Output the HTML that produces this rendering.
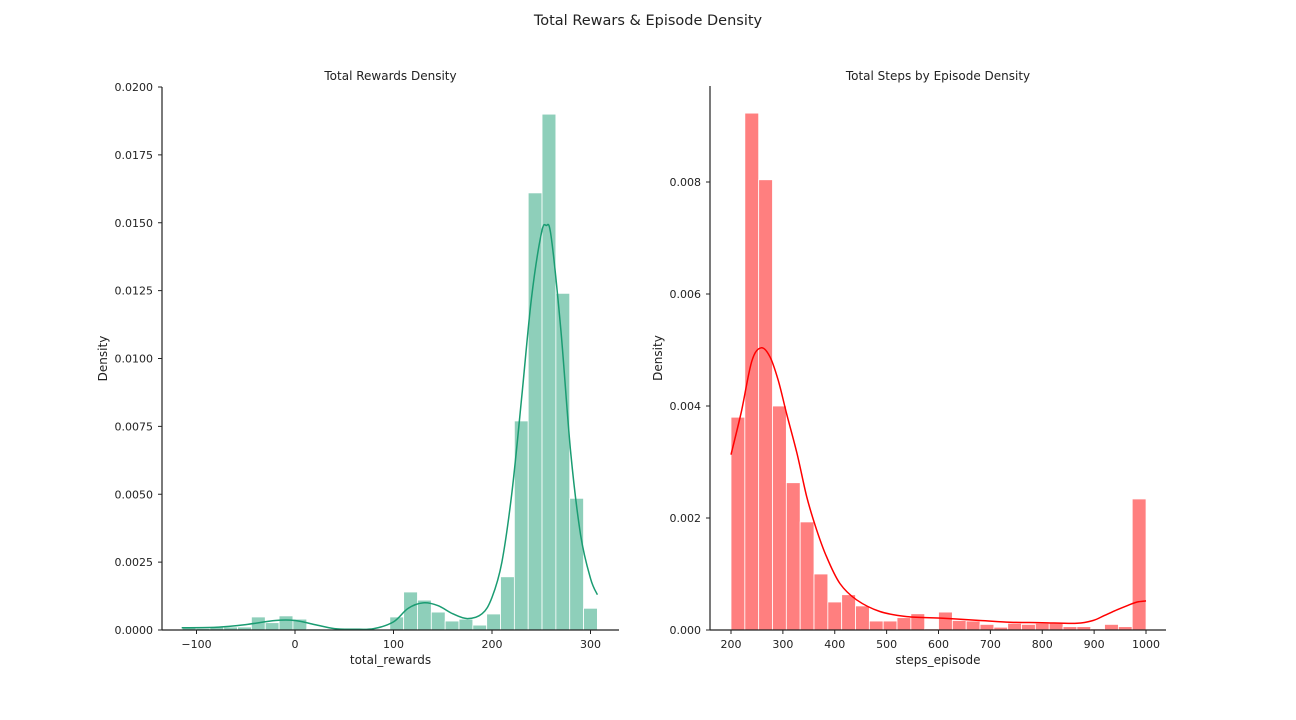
<!DOCTYPE html>
<html><head><meta charset="utf-8"><style>
html,body{margin:0;padding:0;background:#fff;}
svg{display:block;font-family:"DejaVu Sans","Liberation Sans",sans-serif;}
</style></head><body>
<svg id="fig" width="1296" height="720">
<text x="648" y="25" font-size="14.5" text-anchor="middle" fill="#222">Total Rewars &amp; Episode Density</text>
<g id="left"></g>
<g id="right"></g>
</svg>
<script>
// Left chart data
const rewBinStart = -114.5;
const rewBinWidth = 14.05;
const rewDensity = [0.00009,0.00006,0.00011,0.00011,0.00011,0.00048,0.00027,0.00052,0.0004,0.00004,0.00002,0.00001,0.00001,0,0,0.00048,0.0014,0.0011,0.00066,0.00033,0.0004,0.00018,0.00059,0.00196,0.0077,0.0161,0.0190,0.0124,0.00485,0.0008];
const rewKdeX = [-115,-80,-50,-20,0,20,40,60,80,100,115,130,145,160,175,190,200,210,220,230,240,250,255,260,270,280,290,300,307];
const rewKdeY = [0.00008,0.0001,0.0002,0.00035,0.00035,0.0002,0.00005,0.00003,0.00005,0.0003,0.0008,0.001,0.0009,0.0006,0.00042,0.0006,0.0012,0.0025,0.005,0.0085,0.0122,0.0146,0.0149,0.0145,0.011,0.0065,0.0035,0.0019,0.0013];
const rewXTicks = [-100,0,100,200,300];
const rewYTicks = ["0.0000","0.0025","0.0050","0.0075","0.0100","0.0125","0.0150","0.0175","0.0200"];
// Right chart data
const stepBinStart = 200;
const stepBinWidth = 26.67;
const stepDensity = [0.0038,0.00923,0.00804,0.004,0.00263,0.00193,0.001,0.0005,0.00063,0.00043,0.00016,0.00016,0.00022,0.00029,0.00002,0.00032,0.00017,0.00016,0.0001,0.00005,0.00012,0.0001,0.00012,0.00012,0.00006,0.00006,0.00002,0.0001,0.00006,0.00234];
const stepKdeX = [200,220,240,258,275,291,307,327,346,365,384,410,442,487,539,609,680,738,800,867,898,920,944,965,983,1000];
const stepKdeY = [0.00313,0.0039,0.0048,0.00504,0.00488,0.00446,0.00387,0.00316,0.00238,0.00179,0.00131,0.00083,0.00054,0.00033,0.00024,0.00021,0.00017,0.00014,0.00013,0.00012,0.00017,0.00026,0.00036,0.00044,0.0005,0.00052];
const stepXTicks = [200,300,400,500,600,700,800,900,1000];
const stepYTicks = ["0.000","0.002","0.004","0.006","0.008"];

const NS="http://www.w3.org/2000/svg";
function mk(tag,attrs,parent){const e=document.createElementNS(NS,tag);for(const k in attrs)e.setAttribute(k,attrs[k]);parent.appendChild(e);return e;}

function smoothPath(p){
  let d='M'+p[0][0].toFixed(1)+','+p[0][1].toFixed(1);
  for(let i=0;i<p.length-1;i++){
    const p0=p[Math.max(0,i-1)],p1=p[i],p2=p[i+1],p3=p[Math.min(p.length-1,i+2)];
    const c1x=p1[0]+(p2[0]-p0[0])/6,c1y=p1[1]+(p2[1]-p0[1])/6;
    const c2x=p2[0]-(p3[0]-p1[0])/6,c2y=p2[1]-(p3[1]-p1[1])/6;
    d+=` C${c1x.toFixed(1)},${c1y.toFixed(1)} ${c2x.toFixed(1)},${c2y.toFixed(1)} ${p2[0].toFixed(1)},${p2[1].toFixed(1)}`;
  }
  return d;
}

function drawChart(g,o){
  const sx=v=>o.x0px+(v-o.x0v)*o.kx;
  const sy=v=>o.base-v*o.ky;
  o.dens.forEach((d,i)=>{
    const l=sx(o.binStart+i*o.binW), r=sx(o.binStart+(i+1)*o.binW);
    const b=mk('rect',{x:l,y:sy(d),width:Math.max(0,r-l),height:o.base-sy(d),fill:o.barFill,stroke:'#fff','stroke-width':0.8},g);
    
    
  });
  const pts=o.kx_.map((x,i)=>[sx(x),sy(o.ky_[i])]);
  const pl=mk('path',{d:smoothPath(pts),fill:'none',stroke:o.line,'stroke-width':1.5,'stroke-linejoin':'round'},g);
  
  
  const ya=mk('line',{x1:o.left,y1:o.top,x2:o.left,y2:o.base,stroke:'#222','stroke-width':1.2},g);
  
  
  const xa=mk('line',{x1:o.left,y1:o.base,x2:o.right,y2:o.base,stroke:'#222','stroke-width':1.2},g);
  
  
  o.xt.forEach(t=>{
    const x=sx(t);
    mk('line',{x1:x,y1:o.base,x2:x,y2:o.base+4,stroke:'#222'},g);
    const tx=mk('text',{x:x,y:o.base+18,'font-size':11,'text-anchor':'middle',fill:'#222'},g);
    tx.textContent=(t<0?'\u2212'+(-t):t);
    
    
  });
  o.yt.forEach(s=>{
    const y=sy(parseFloat(s));
    mk('line',{x1:o.left-4,y1:y,x2:o.left,y2:y,stroke:'#222'},g);
    const tx=mk('text',{x:o.left-9,y:y+4,'font-size':11,'text-anchor':'end',fill:'#222'},g);
    tx.textContent=s;
    
    
  });
  const t=mk('text',{x:(o.left+o.right)/2,y:80,'font-size':12,'text-anchor':'middle',fill:'#222'},g);
  t.textContent=o.title;
  
  
  const xl=mk('text',{x:(o.left+o.right)/2,y:664,'font-size':12,'text-anchor':'middle',fill:'#222'},g);
  xl.textContent=o.xlabel;
  
  
  const yl=mk('text',{x:0,y:0,'font-size':12,'text-anchor':'middle',fill:'#222',transform:`translate(${o.ylx},${(o.top+o.base)/2}) rotate(-90)`},g);
  yl.textContent='Density';
  
  
}

drawChart(document.getElementById('left'),{
  x0px:295,x0v:0,kx:0.985,base:630,ky:27150,left:162,right:619,top:87,
  dens:rewDensity,binStart:rewBinStart,binW:rewBinWidth,kx_:rewKdeX,ky_:rewKdeY,
  barFill:'#8ecfba',line:'#1a9c72',xt:rewXTicks,yt:rewYTicks,
  title:'Total Rewards Density',xlabel:'total_rewards',ylx:107
});
drawChart(document.getElementById('right'),{
  x0px:731,x0v:200,kx:0.51875,base:630,ky:56000,left:710,right:1166,top:86,
  dens:stepDensity,binStart:stepBinStart,binW:stepBinWidth,kx_:stepKdeX,ky_:stepKdeY,
  barFill:'#ff7f7f',line:'#ff0000',xt:stepXTicks,yt:stepYTicks,
  title:'Total Steps by Episode Density',xlabel:'steps_episode',ylx:662
});
</script>
</body></html>
